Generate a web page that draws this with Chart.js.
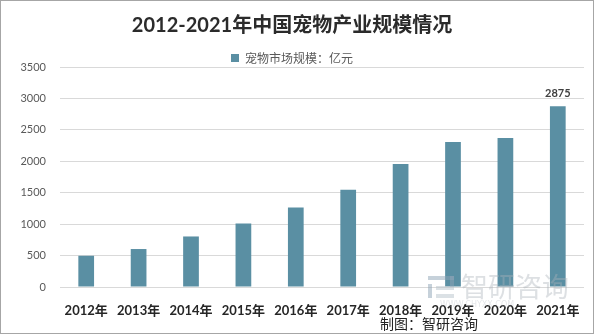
<!DOCTYPE html>
<html>
<head>
<meta charset="utf-8">
<script src="https://cdn.jsdelivr.net/npm/chart.js@4"></script>
<style>
  html, body { margin: 0; padding: 0; background: #fff; }
  #wrap { width: 594px; height: 334px; }
</style>
</head>
<body>
<div id="wrap"><canvas id="petChart" width="594" height="334"></canvas></div>
<script>
const years = ['2012年', '2013年', '2014年', '2015年', '2016年', '2017年', '2018年', '2019年', '2020年', '2021年'];
const marketSize = [497, 604, 804, 1012, 1266, 1546, 1956, 2306, 2370, 2875];
const labelledIndex = [9];   // only the last bar carries a value label
const yTicks = [0, 500, 1000, 1500, 2000, 2500, 3000, 3500];

const BAR_COLOR = '#5a8fa3';
const LATIN = "Lato, 'Noto Sans CJK SC', sans-serif";

// value label, watermark, footer and frame
const extras = {
    id: 'extras',
    afterDatasetsDraw(chart) {
        const ctx = chart.ctx;
        const meta = chart.getDatasetMeta(0);
        ctx.save();
        ctx.font = 'bold 11px ' + LATIN;
        ctx.fillStyle = '#404040';
        ctx.textAlign = 'center';
        ctx.textBaseline = 'alphabetic';
        labelledIndex.forEach(i => {
            const bar = meta.data[i];
            ctx.fillText(String(marketSize[i]), bar.x, bar.y - 9);
        });
        ctx.restore();
    },
    afterDraw(chart) {
        const ctx = chart.ctx;
        ctx.save();

        // watermark
        ctx.globalAlpha = 0.5;
        ctx.fillStyle = '#8ea3b5';
        ctx.fillRect(428, 276, 26, 4);
        ctx.fillRect(450, 276, 4, 11);
        ctx.fillRect(428, 284, 4, 14);
        ctx.fillStyle = '#b7c3cc';
        ctx.fillRect(436, 286, 18, 4);
        ctx.fillRect(436, 294, 18, 4);
        ctx.globalAlpha = 0.4;
        ctx.fillStyle = '#a9b1b8';
        ctx.font = "27px 'Noto Sans CJK SC'";
        ctx.textBaseline = 'middle';
        ctx.textAlign = 'left';
        ctx.fillText('智研咨询', 461, 287);
        ctx.globalAlpha = 0.3;
        ctx.font = "8px 'DejaVu Sans'";
        ctx.fillText('WWW.CHYXX.COM', 440, 305);
        ctx.globalAlpha = 1;

        // footer credit
        ctx.fillStyle = '#222';
        ctx.font = "14px 'Noto Sans CJK SC'";
        ctx.textBaseline = 'middle';
        ctx.fillText('制图：智研咨询', 380, 324);

        // outer frame
        ctx.strokeStyle = '#a6a6a6';
        ctx.lineWidth = 1;
        ctx.strokeRect(0.5, 0.5, 593, 333);
        ctx.restore();
    }
};

new Chart(document.getElementById('petChart').getContext('2d'), {
    type: 'bar',
    data: {
        labels: years,
        datasets: [{
            label: '宠物市场规模：亿元',
            data: marketSize,
            backgroundColor: BAR_COLOR,
            borderWidth: 0,
            barPercentage: 0.6,
            categoryPercentage: 0.5
        }]
    },
    options: {
        responsive: false,
        animation: false,
        layout: { padding: { top: 0, right: 10, bottom: 17, left: 0 } },
        plugins: {
            title: {
                display: true,
                text: '2012-2021年中国宠物产业规模情况',
                color: '#2b2b2b',
                font: { family: LATIN, size: 20, weight: 'bold' },
                padding: { top: 14, bottom: 14 }
            },
            legend: {
                position: 'top',
                maxHeight: 15,
                labels: {
                    color: '#595959',
                    font: { family: "'Noto Sans CJK SC'", size: 12 },
                    usePointStyle: true,
                    pointStyle: 'rect',
                    boxWidth: 8,
                    boxHeight: 8,
                    padding: 0
                }
            },
            tooltip: { enabled: false }
        },
        scales: {
            x: {
                grid: { display: false },
                border: { display: false },
                ticks: {
                    color: '#262626',
                    font: { family: LATIN, size: 13, weight: 'bold' },
                    padding: 8,
                    maxRotation: 0,
                    autoSkip: false
                },
                afterFit(scale) { scale.height = 30; }
            },
            y: {
                min: 0,
                max: 3500,
                afterBuildTicks(scale) { scale.ticks = yTicks.map(v => ({ value: v })); },
                grid: { color: '#d9d9d9', drawTicks: false },
                border: { display: false },
                ticks: {
                    color: '#595959',
                    font: { family: LATIN, size: 11 },
                    padding: 14,
                    callback: v => String(v)
                },
                afterFit(scale) {
                    scale.width = 60;
                    scale.paddingTop = 0;
                    scale.paddingBottom = 0;
                }
            }
        }
    },
    plugins: [extras]
});
</script>
</body>
</html>
